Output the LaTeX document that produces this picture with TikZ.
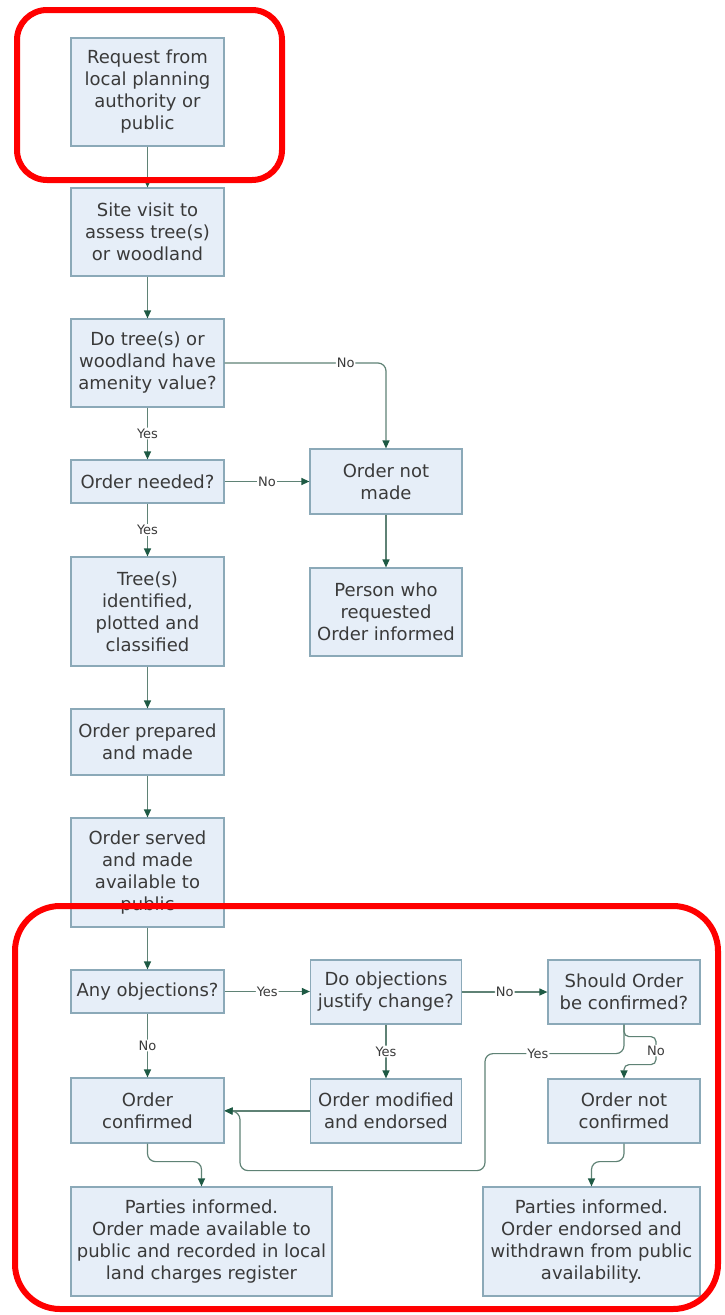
\documentclass[tikz,border=0pt]{standalone}
\usepackage{fontspec}
\setmainfont{DejaVu Sans}
\usetikzlibrary{arrows.meta}
\definecolor{boxfill}{HTML}{E6EEF8}
\definecolor{boxline}{HTML}{8BA9B8}
\definecolor{lineclr}{HTML}{5F8275}
\definecolor{arrclr}{HTML}{1E5A44}
\definecolor{txt}{HTML}{3A3A3A}
\definecolor{redc}{HTML}{FF0000}
\begin{document}
\begin{tikzpicture}[x=1pt,y=-1pt,
  box/.style={draw=boxline, fill=boxfill, line width=1.2pt, align=center, text=txt,
    font=\fontsize{18}{22}\selectfont, inner sep=0pt, minimum width=153pt},
  conn/.style={draw=lineclr, line width=1.2pt, rounded corners=8pt,
    -{Triangle[length=8pt,width=7pt,color=arrclr]}},
  lbl/.style={fill=white, inner sep=1pt, font=\fontsize{13}{15}\selectfont, text=txt},
  redbox/.style={draw=redc, line width=6pt}]
\fill[white] (0,0) rectangle (724,1315);
\useasboundingbox (0,0) rectangle (724,1315);

\node[box, minimum height=108pt] (req) at (147.5,92) {Request from\\local planning\\authority or\\public};
\node[box, minimum height=88pt] (site) at (147.5,232) {Site visit to\\assess tree(s)\\or woodland};
\node[box, minimum height=88pt] (amen) at (147.5,363) {Do tree(s) or\\woodland have\\amenity value?};
\node[box, minimum height=43pt] (need) at (147.5,481.5) {Order needed?};
\node[box, minimum width=152pt, minimum height=65pt] (notmade) at (386,481.5) {Order not\\made};
\node[box, minimum width=152pt, minimum height=88pt] (person) at (386,612) {Person who\\requested\\Order informed};
\node[box, minimum height=109pt] (ident) at (147.5,611.5) {Tree(s)\\identified,\\plotted and\\classified};
\node[box, minimum height=66pt] (prep) at (147.5,742) {Order prepared\\and made};
\node[box, minimum height=109pt] (served) at (147.5,872.5) {Order served\\and made\\available to\\public};
\node[box, minimum height=43pt] (anyobj) at (147.5,991.5) {Any objections?};
\node[box, minimum width=151pt, minimum height=64pt] (justify) at (386,992) {Do objections\\justify change?};
\node[box, minimum width=152pt, minimum height=64pt] (should) at (624,992) {Should Order\\be confirmed?};
\node[box, minimum height=65pt] (confirmed) at (147.5,1110.5) {Order\\confirmed};
\node[box, minimum width=151pt, minimum height=64pt] (modified) at (386,1111) {Order modified\\and endorsed};
\node[box, minimum width=152pt, minimum height=64pt] (notconf) at (624,1111) {Order not\\confirmed};
\node[box, minimum width=261pt, minimum height=109pt] (partiesL) at (201.5,1241.5) {Parties informed.\\Order made available to\\public and recorded in local\\land charges register};
\node[box, minimum width=217pt, minimum height=109pt] (partiesR) at (591.5,1241.5) {Parties informed.\\Order endorsed and\\withdrawn from public\\availability.};

\draw[conn] (req) -- (site);
\draw[conn] (site) -- (amen);
\draw[conn] (amen) -- node[lbl]{Yes} (need);
\draw[conn] (need) -- node[lbl]{Yes} (ident);
\draw[conn] (ident) -- (prep);
\draw[conn] (prep) -- (served);
\draw[conn] (served) -- (anyobj);
\draw[conn] (amen.east) -- node[lbl, pos=0.75]{No} (amen.east -| notmade.north) -- (notmade.north);
\draw[conn] (need) -- node[lbl]{No} (notmade);
\draw[conn] (notmade) -- (person);
\draw[conn] (anyobj.east) -- node[lbl]{Yes} (anyobj.east -| justify.west);
\draw[conn] (justify) -- node[lbl]{No} (should);
\draw[conn] (justify) -- node[lbl]{Yes} (modified);
\draw[conn] (anyobj) -- node[lbl]{No} (confirmed);
\draw[conn] (modified.west) -- (modified.west -| confirmed.east);
\draw[conn] (should.south) -- ++(0,29) -- node[lbl, pos=0.62]{Yes} ++(-139,0) -- ++(0,117)
  -- ++(-245,0) -- ++(0,-59) -- (confirmed.east);
\draw[conn, rounded corners=5pt] (should.south) -- ++(0,12) -- ++(32,0) -- node[lbl]{No} ++(0,28)
  -- ++(-32,0) -- (notconf.north);
\draw[conn] (confirmed.south) -- ++(0,18) -| (partiesL.north);
\draw[conn] (notconf.south) -- ++(0,18) -| (partiesR.north);

\draw[redbox, rounded corners=30pt] (17,10) rectangle (282,180);
\draw[redbox, rounded corners=45pt] (15,906) rectangle (718,1309);
\end{tikzpicture}
\end{document}
